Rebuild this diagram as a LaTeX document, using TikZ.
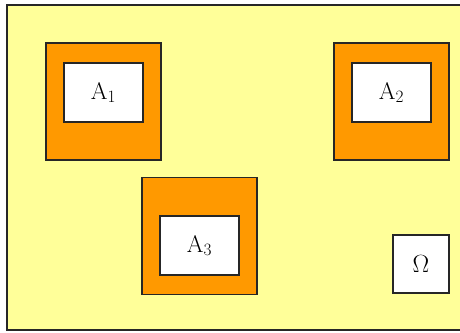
\documentclass[tikz,border=0pt]{standalone}
\usepackage{tikz}

\definecolor{paleyellow}{HTML}{FFFF99}
\definecolor{setorange}{HTML}{FF9900}

\begin{document}
\begin{tikzpicture}[x=1pt,y=-1pt,
        outer set/.style={draw=black!85,line width=1.4pt,fill=setorange,
           minimum width=115pt,minimum height=117pt,inner sep=0pt},
        inner set/.style={draw=black!85,line width=1.4pt,fill=white,
           minimum width=79pt,minimum height=59pt,inner sep=0pt,
           font=\fontsize{24}{26}\selectfont},
    ]
    \useasboundingbox (0,0) rectangle (460,332);
    % universe frame
    \draw[draw=black!85,line width=1.6pt,fill=paleyellow]
        (7,5) rectangle (464,330);
    % the three sets, each inside its orange square
    \node[outer set] (sq1) at (103.5,101.5) {};
    \node[outer set] (sq2) at (391.5,101.5) {};
    \node[outer set] (sq3) at (199.5,236) {};
    \node[inner set] (a1) at (103.5,92.5) {A$_1$};
    \node[inner set] (a2) at (391.5,92.5) {A$_2$};
    \node[inner set] (a3) at (199.5,245.5) {A$_3$};
    % sample space
    \node[inner set,minimum width=56pt,minimum height=58pt,
        font=\fontsize{27}{29}\selectfont]
        (omega) at (421,264) {$\Omega$};
\end{tikzpicture}
\end{document}
